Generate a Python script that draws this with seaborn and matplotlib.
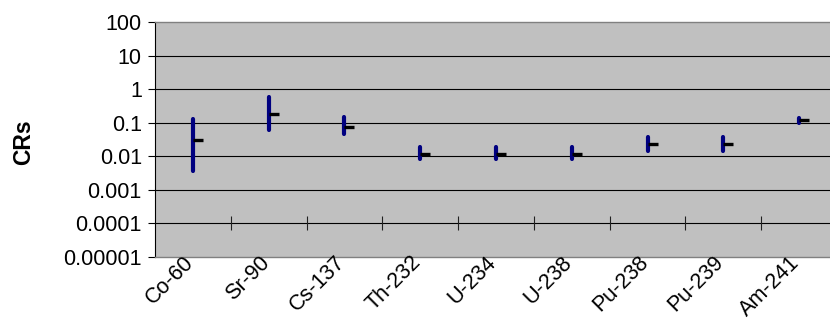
import numpy as np
import pandas as pd
import matplotlib
matplotlib.use("Agg")
import matplotlib.pyplot as plt
import matplotlib.transforms as mtransforms
from matplotlib.path import Path
from matplotlib.ticker import FixedLocator, FixedFormatter
import seaborn as sns

# ---- data ----
nuclides = ['Co-60', 'Sr-90', 'Cs-137', 'Th-232', 'U-234', 'U-238', 'Pu-238', 'Pu-239', 'Am-241']
cr_low = [0.0036, 0.061, 0.045, 0.0085, 0.0085, 0.0085, 0.014, 0.014, 0.096]
cr_high = [0.126, 0.60, 0.148, 0.019, 0.019, 0.019, 0.0375, 0.0375, 0.135]
cr_mean = [0.030, 0.178, 0.073, 0.012, 0.012, 0.012, 0.023, 0.023, 0.123]
ytick_vals = [1e-5, 1e-4, 1e-3, 1e-2, 1e-1, 1, 10, 100]
ytick_labels = ['0.00001', '0.0001', '0.001', '0.01', '0.1', '1', '10', '100']

sns.set_theme(style="white")
plt.rcParams['font.family'] = ['Liberation Sans', 'DejaVu Sans']

pos_map = {n: i for i, n in enumerate(nuclides)}
df_range = pd.DataFrame({
    'Nuclide': nuclides * 2,
    'CR': cr_low + cr_high,
})
df_range['pos'] = df_range['Nuclide'].map(pos_map)
df_mean = pd.DataFrame({'Nuclide': nuclides, 'CR': cr_mean})
df_mean['pos'] = df_mean['Nuclide'].map(pos_map)

fig = plt.figure(figsize=(8.30, 3.24), dpi=100)
W, H = 830, 324
ax = fig.add_axes([155 / W, 67 / H, (837 - 155) / W, 235 / H])
ax.set_facecolor('#C0C0C0')

ax.set_yscale('log')
ax.set_ylim(1e-5, 100)
ax.set_xlim(-0.5, len(nuclides) - 0.5)

# gridlines
for v in ytick_vals[1:-1]:
    ax.axhline(v, color='black', lw=0.8, zorder=1)

# category axis crossing at 0.0001 with boundary ticks
bounds = np.arange(1, len(nuclides)) - 0.5
ax.plot(bounds, [1e-4] * len(bounds), linestyle='none', marker='|',
        markersize=10, markeredgewidth=0.8, color='#202020', zorder=2)

# high-low lines
sns.lineplot(data=df_range, x='pos', y='CR', units='Nuclide', estimator=None,
             color='#000080', linewidth=3.0, solid_capstyle='round',
             sort=False, ax=ax, zorder=3, legend=False)

# mean tick to the right
tick_marker = Path([(0, 0), (1, 0)], [Path.MOVETO, Path.LINETO])
sns.scatterplot(data=df_mean, x='pos', y='CR', marker=tick_marker, s=14.4 ** 2,
                color='black', edgecolor='black', facecolor='none',
                linewidth=2.4, ax=ax, zorder=4, legend=False)

# axes styling
ax.yaxis.set_major_locator(FixedLocator(ytick_vals))
ax.yaxis.set_major_formatter(FixedFormatter(ytick_labels))
ax.yaxis.set_minor_locator(FixedLocator([]))
ax.tick_params(axis='y', which='major', left=True, length=5, width=0.8,
               color='black', pad=4.5, labelsize=15.5, labelcolor='black')

# category labels (rotated), placed through the x scale
ax.set_xticks(range(len(nuclides)))
ax.set_xticklabels([])
ax.tick_params(axis='x', length=0)
offset = mtransforms.ScaledTranslation(-10 / 100, 5 / 100, fig.dpi_scale_trans)
lab_trans = ax.get_xaxis_transform() + offset
for n in nuclides:
    ax.text(pos_map[n], 0, n, transform=lab_trans, rotation=45,
            ha='right', va='top', rotation_mode='anchor',
            fontsize=15.5, color='black', clip_on=False)

ax.set_xlabel('')
ax.set_ylabel('CRs', fontsize=16.5, fontweight='bold', color='black')
ax.yaxis.set_label_coords((24 - 155) / 682, (257 - 141.7) / 235)
ax.yaxis.label.set_va('center')

for s in ['top', 'bottom', 'right']:
    ax.spines[s].set_color('#808080')
    ax.spines[s].set_linewidth(1.0)
ax.spines['left'].set_color('black')
ax.spines['left'].set_linewidth(0.8)

fig.savefig('out.png', dpi=100)
